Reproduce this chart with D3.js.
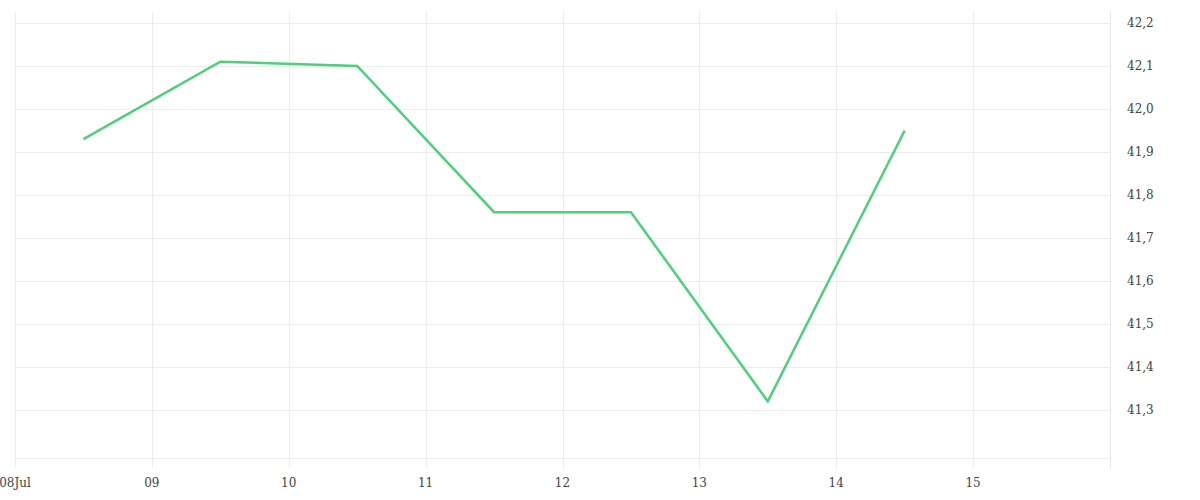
<!DOCTYPE html>
<html>
<head>
<meta charset="utf-8">
<script src="https://cdn.jsdelivr.net/npm/d3@7"></script>
<style>
body { margin: 0; background: #fff; }
svg text { font-family: "DejaVu Serif", serif; font-size: 12px; fill: #444; }
</style>
</head>
<body>
<div id="chart"></div>
<script>
const dates = ["2024-07-08T12:00", "2024-07-09T12:00", "2024-07-10T12:00", "2024-07-11T12:00",
  "2024-07-12T12:00", "2024-07-13T12:00", "2024-07-14T12:00"];
const values = [41.93, 42.11, 42.10, 41.76, 41.76, 41.32, 41.95];
const yTicks = [41.3, 41.4, 41.5, 41.6, 41.7, 41.8, 41.9, 42.0, 42.1, 42.2];
const xStart = "2024-07-08", xEnd = "2024-07-16";

const width = 1200, height = 500;
const margin = { top: 12, right: 90, bottom: 42, left: 15 };

const parse = d3.timeParse("%Y-%m-%dT%H:%M");
const data = dates.map((d, i) => ({ date: parse(d), value: values[i] }));

const svg = d3.select("#chart").append("svg")
  .attr("width", width).attr("height", height);

const xScale = d3.scaleTime()
  .domain([d3.timeParse("%Y-%m-%d")(xStart), d3.timeParse("%Y-%m-%d")(xEnd)])
  .range([margin.left, width - margin.right]);

const yScale = d3.scaleLinear()
  .domain([41.1884, 42.2256])
  .range([height - margin.bottom, margin.top]);

const xTicks = d3.timeDay.range(xScale.domain()[0], xScale.domain()[1]);
const fmtComma = v => d3.format(".1f")(v).replace(".", ",");

// horizontal grid
svg.append("g")
  .selectAll("line")
  .data(yTicks)
  .join("line")
  .attr("x1", margin.left).attr("x2", width - margin.right)
  .attr("y1", d => Math.round(yScale(d)) + 0.5)
  .attr("y2", d => Math.round(yScale(d)) + 0.5)
  .attr("stroke", "#ececec");

// baseline
svg.append("line")
  .attr("x1", margin.left).attr("x2", width - margin.right)
  .attr("y1", height - margin.bottom + 0.5).attr("y2", height - margin.bottom + 0.5)
  .attr("stroke", "#ececec");

// vertical grid + ticks
svg.append("g")
  .selectAll("line")
  .data(xTicks)
  .join("line")
  .attr("x1", d => Math.round(xScale(d)) + 0.5)
  .attr("x2", d => Math.round(xScale(d)) + 0.5)
  .attr("y1", margin.top).attr("y2", height - margin.bottom + 10)
  .attr("stroke", "#ececec");

// right axis line
svg.append("line")
  .attr("x1", width - margin.right + 0.5).attr("x2", width - margin.right + 0.5)
  .attr("y1", margin.top).attr("y2", height - margin.bottom + 10)
  .attr("stroke", "#e6e6e6");

// x labels
svg.append("g")
  .selectAll("text")
  .data(xTicks)
  .join("text")
  .attr("x", d => xScale(d))
  .attr("y", height - 13)
  .attr("text-anchor", "middle")
  .text((d, i) => i === 0 ? d3.timeFormat("%d%b")(d) : d3.timeFormat("%d")(d));

// y labels
svg.append("g")
  .selectAll("text")
  .data(yTicks)
  .join("text")
  .attr("x", width - margin.right + 17)
  .attr("y", d => yScale(d))
  .attr("dy", "0.35em")
  .text(d => fmtComma(d));

const line = d3.line()
  .x(d => xScale(d.date))
  .y(d => yScale(d.value));

svg.append("path")
  .datum(data)
  .attr("d", line)
  .attr("fill", "none")
  .attr("stroke", "#4dd07a")
  .attr("stroke-width", 2.5)
  .attr("stroke-linejoin", "miter");
</script>
</body>
</html>
